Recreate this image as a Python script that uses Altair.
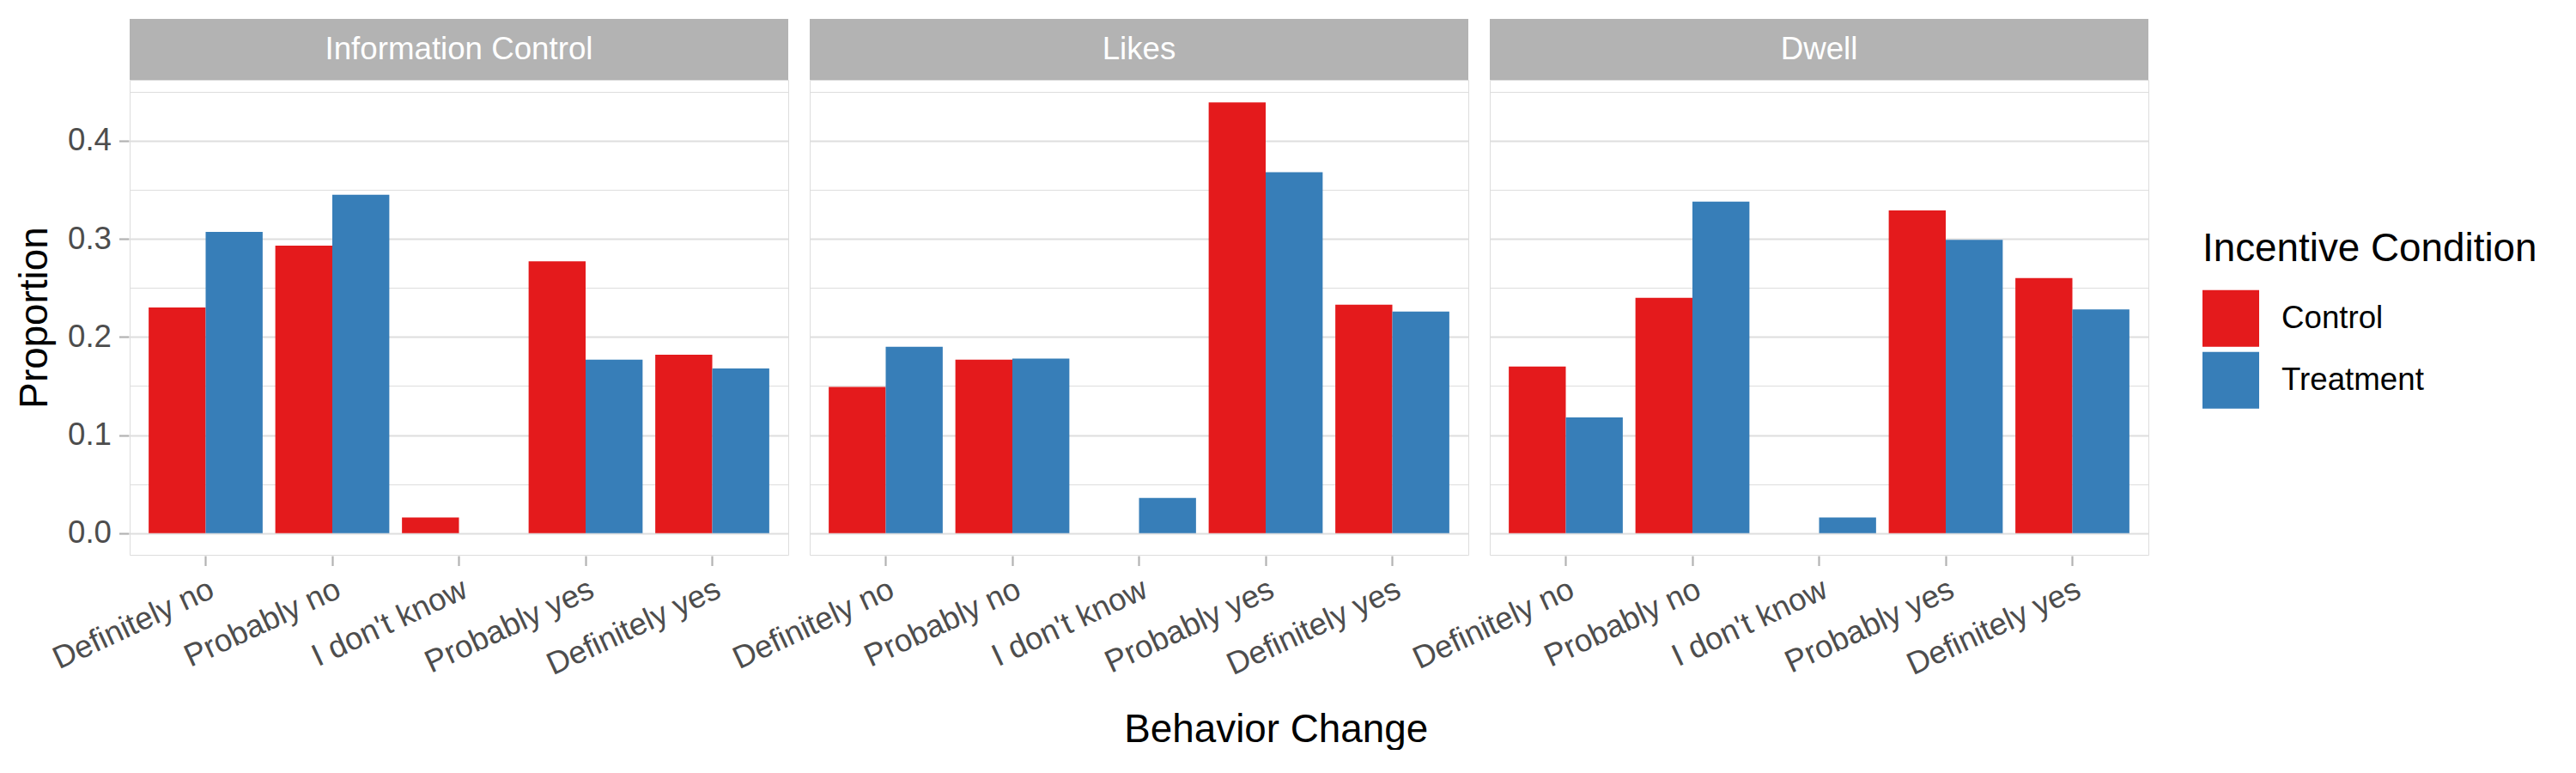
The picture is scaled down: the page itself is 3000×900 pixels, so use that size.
import altair as alt
import pandas as pd

panels = ["Information Control", "Likes", "Dwell"]
categories = ["Definitely no", "Probably no", "I don't know", "Probably yes", "Definitely yes"]
conditions = ["Control", "Treatment"]

control_values = {
    "Information Control": [0.230, 0.293, 0.016, 0.277, 0.182],
    "Likes": [0.149, 0.177, 0.0, 0.439, 0.233],
    "Dwell": [0.170, 0.240, 0.0, 0.329, 0.260],
}
treatment_values = {
    "Information Control": [0.307, 0.345, 0.0, 0.177, 0.168],
    "Likes": [0.190, 0.178, 0.036, 0.368, 0.226],
    "Dwell": [0.118, 0.338, 0.016, 0.299, 0.228],
}
y_ticks = [0.0, 0.05, 0.1, 0.15, 0.2, 0.25, 0.3, 0.35, 0.4, 0.45]

rows = []
for p in panels:
    for i, c in enumerate(categories):
        rows.append({"panel": p, "cat": c, "cond": "Control", "prop": control_values[p][i]})
        rows.append({"panel": p, "cat": c, "cond": "Treatment", "prop": treatment_values[p][i]})
df = pd.DataFrame(rows)

FONT = "Liberation Sans"
W, H = 767, 553
STRIP = 71

bars = alt.Chart().mark_bar().encode(
    x=alt.X("cat:N", sort=categories,
            scale=alt.Scale(paddingInner=0.1, paddingOuter=0.15),
            axis=alt.Axis(title=None, labelAngle=335, labelAlign="right", labelBaseline="top",
                          labelFontSize=36.7, labelColor="#4D4D4D", labelPadding=9, labelLimit=0,
                          tickColor="#B3B3B3", tickSize=11.5, tickWidth=2.2,
                          gridColor="#DEDEDE", gridWidth=2.2, domain=False, bandPosition=0.5,
                          labelFont=FONT)),
    xOffset=alt.XOffset("cond:N", sort=conditions, scale=alt.Scale(paddingInner=0, paddingOuter=0)),
    y=alt.Y("prop:Q", scale=alt.Scale(domain=[-0.022, 0.462], nice=False),
            axis=alt.Axis(title="Proportion", values=y_ticks,
                          labelExpr="round(datum.value*20) % 2 == 0 ? format(datum.value, '.1f') : ''",
                          labelFontSize=36.7, labelColor="#4D4D4D", labelPadding=9,
                          tickColor="#B3B3B3", tickSize=11.5, tickWidth=2.2,
                          tickOpacity={"condition": {"test": "round(datum.value*20) % 2 == 1", "value": 0}, "value": 1},
                          gridColor="#DEDEDE",
                          gridWidth={"condition": {"test": "round(datum.value*20) % 2 == 1", "value": 1.1}, "value": 2.2},
                          domain=False, titleFontSize=45.8, titleFontWeight="normal", titleColor="black",
                          titlePadding=14, labelFont=FONT, titleFont=FONT)),
    color=alt.Color("cond:N", sort=conditions,
                    scale=alt.Scale(domain=conditions, range=["#E41A1C", "#377EB8"]),
                    legend=alt.Legend(title="Incentive Condition", orient="none", legendX=2414, legendY=175,
                                      symbolType="square", symbolSize=4356, symbolStrokeWidth=0,
                                      labelFontSize=36.7, titleFontSize=45.8, labelOffset=26,
                                      labelLimit=0, titleLimit=0,
                                      rowPadding=6, titlePadding=24, padding=0,
                                      titleFontWeight="normal", titleColor="black", labelColor="black",
                                      labelFont=FONT, titleFont=FONT)),
)

strip_rect = alt.Chart().transform_filter(
    "datum.cat == 'Definitely no' && datum.cond == 'Control'"
).mark_rect(color="#B3B3B3").encode(
    x=alt.value(0), x2=alt.value(W), y=alt.value(-STRIP), y2=alt.value(0)
)

strip_text = alt.Chart().transform_filter(
    "datum.cat == 'Definitely no' && datum.cond == 'Control'"
).mark_text(color="white", fontSize=36.7, font=FONT, align="center", baseline="middle").encode(
    text="panel:N", x=alt.value(W / 2), y=alt.value(-STRIP / 2)
)

chart = alt.layer(bars, strip_rect, strip_text, data=df).properties(width=W, height=H).facet(
    column=alt.Column("panel:N", sort=panels, header=alt.Header(labels=False, title=None)),
    spacing=23,
).properties(
    padding={"left": 9, "top": 13, "right": 0, "bottom": 0},
    title=alt.TitleParams("Behavior Change", orient="bottom", anchor="middle", fontSize=45.8,
                          font=FONT, fontWeight="normal", color="black", offset=35),
).configure_view(
    stroke="#B3B3B3", strokeWidth=3
).configure(background="white")

chart.save("out.html", embed_options={"renderer": "svg", "actions": False})
